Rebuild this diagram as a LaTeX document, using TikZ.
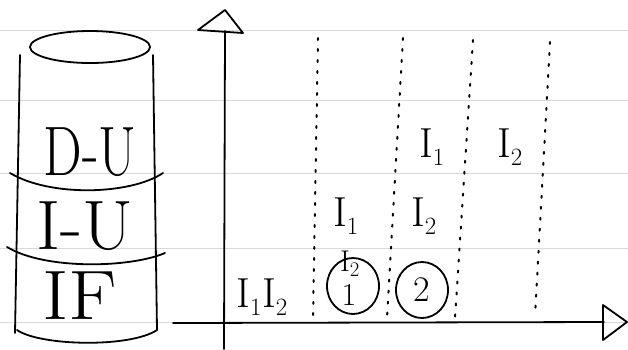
\documentclass[tikz,border=0pt]{standalone}
\usetikzlibrary{shapes.geometric}
\tikzset{
  ink/.style={line width=1.8pt, black, line cap=round, line join=round},
  ruled/.style={line width=1pt, gray!30},
  dotline/.style={line width=2pt, black, dash pattern=on 2pt off 9pt, line cap=round},
  biglab/.style={font=\fontsize{70}{70}\selectfont, inner sep=0pt},
  lab/.style={font=\fontsize{42}{42}\selectfont, inner sep=0pt},
  smalllab/.style={font=\fontsize{30}{30}\selectfont, inner sep=0pt},
  ring/.style={draw, ink, ellipse, minimum width=52pt, minimum height=56pt, inner sep=0pt, font=\fontsize{36}{36}\selectfont}
}
\begin{document}
\begin{tikzpicture}[x=1pt, y=-1pt]
\useasboundingbox (0,0) rectangle (628,349);
\fill[white] (0,0) rectangle (628,349);
% ruled paper lines
\foreach \yy in {30,100,173,248,322} \draw[ruled] (0,\yy) -- (628,\yy);
% cylinder
\draw[ink] (90,47) ellipse [x radius=60, y radius=16];
\draw[ink] (20,55) -- (15,333);
\draw[ink] (153,55) -- (157,330);
\draw[ink] (17,330) .. controls (40,346) and (130,348) .. (157,330);
\draw[ink] (10,173) .. controls (50,197) and (130,195) .. (163,173);
\draw[ink] (7,247) .. controls (45,270) and (130,268) .. (165,253);
\node[biglab] (du) at (90,152) {\scalebox{0.78}[1]{D-U}};
\node[biglab] (iu) at (85,226) {\scalebox{1.05}[1]{I-U}};
\node[biglab] (if) at (80,296) {\scalebox{1.15}[1]{IF}};
% axes
\coordinate (ybot) at (224,349);
\coordinate (ytop) at (225,31);
\coordinate (xl) at (173,323);
\coordinate (xr) at (604,322);
\draw[ink] (ybot) -- (ytop);
\draw[ink] (198,30) -- (225,10) -- (243,33) -- cycle;
\draw[ink] (xl) -- (xr);
\draw[ink] (603,305) -- (627,322) -- (603,340) -- cycle;
% dotted columns
\coordinate (d1t) at (318,38); \coordinate (d1b) at (313,318);
\coordinate (d2t) at (403,38); \coordinate (d2b) at (387,318);
\coordinate (d3t) at (473,40); \coordinate (d3b) at (455,318);
\coordinate (d4t) at (550,42); \coordinate (d4b) at (535,316);
\draw[dotline] (d1t) -- (d1b);
\draw[dotline] (d2t) -- (d2b);
\draw[dotline] (d3t) -- (d3b);
\draw[dotline] (d4t) -- (d4b);
% labels
\node[lab] (r1a) at (432,147) {I$_1$};
\node[lab] (r1b) at (510,147) {I$_2$};
\node[lab] (r2a) at (346,216) {I$_1$};
\node[lab] (r2b) at (424,216) {I$_2$};
\node[lab] (r3) at (262,297) {I$_1$I$_2$};
\node[ring] (c1) at (353,286) {};
\node[font=\fontsize{32}{32}\selectfont, inner sep=0pt] (one) at (349,295) {1};
\node[smalllab] (i2s) at (350,264) {I$_2$};
\node[ring] (c2) at (422,290) {2};
\end{tikzpicture}
\end{document}
